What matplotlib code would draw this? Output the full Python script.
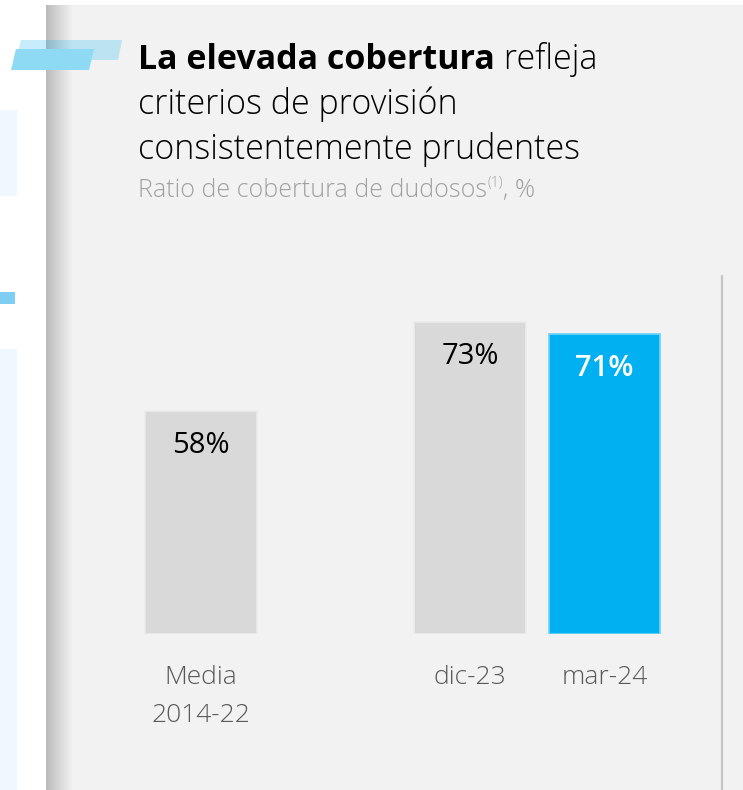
import numpy as np
import matplotlib
matplotlib.use("Agg")
from matplotlib import pyplot as plt
from matplotlib.patches import Rectangle, Polygon
from matplotlib.colors import LinearSegmentedColormap

# chart data
categories = ["Media\n2014-22", "dic-23", "mar-24"]
coverage = [58, 73, 71]
value_labels = ["58%", "73%", "71%"]

title_bold = "La elevada cobertura"
title_rest = [" refleja", "criterios de provisión", "consistentemente prudentes"]
subtitle = "Ratio de cobertura de dudosos"

FONT = ["Open Sans", "DejaVu Sans"]
W, H = 743, 790
BLUE = "#00b0f0"
GREY_BAR = "#d9d9d9"
PANEL = "#f2f2f2"

fig = plt.figure(figsize=(W / 100, H / 100), dpi=100)
fig.patch.set_facecolor("white")

# background layer in pixel coordinates
bg = fig.add_axes([0, 0, 1, 1])
bg.set_xlim(0, W)
bg.set_ylim(H, 0)
bg.axis("off")

# neighbouring slide pieces on the left
bg.add_patch(Rectangle((0, 110), 17, 86, color="#eef8fe", lw=0))
bg.add_patch(Rectangle((0, 292), 15, 12, color="#7fcdf2", lw=0))
bg.add_patch(Rectangle((0, 349), 17, H - 349, color="#eef8fe", lw=0))

# main panel with its left shadow
bg.add_patch(Rectangle((46, 5), W - 46, H - 5, color=PANEL, lw=0))
shadow = LinearSegmentedColormap.from_list("shadow", ["#bababa", "#d8d8d8", PANEL])
grad = np.linspace(0, 1, 64).reshape(1, -1)
bg.imshow(grad, cmap=shadow, extent=(46, 73, H, 5), aspect="auto", zorder=1)
bg.set_xlim(0, W)
bg.set_ylim(H, 0)

# title decoration
bg.add_patch(Polygon([(21, 40), (122, 40), (118, 60), (16, 60)],
                     closed=True, color=BLUE, alpha=0.22, lw=0, zorder=2))
bg.add_patch(Polygon([(16, 49), (94, 49), (89, 70), (11, 70)],
                     closed=True, color="#8ed9f4", lw=0, zorder=3))

# divider on the right
bg.plot([722, 722], [276, H], color="#c6c6c6", lw=1.6, zorder=2)

# title block
TS = 24.5
t1 = fig.text(138 / W, 1 - 69 / H, title_bold, fontsize=TS, fontweight="bold",
              family=FONT, color="#000000", va="baseline")
fig.canvas.draw()
bb = t1.get_window_extent()
fig.text(bb.x1 / W, 1 - 69 / H, title_rest[0], fontsize=TS, fontweight="light",
         family=FONT, color="#000000", va="baseline")
fig.text(138 / W, 1 - 114 / H, title_rest[1], fontsize=TS, fontweight="light",
         family=FONT, color="#000000", va="baseline")
fig.text(138 / W, 1 - 159 / H, title_rest[2], fontsize=TS, fontweight="light",
         family=FONT, color="#000000", va="baseline")

SS = 18
s1 = fig.text(138 / W, 1 - 197 / H, subtitle, fontsize=SS, fontweight="light",
              family=FONT, color="#a0a0a0", va="baseline")
fig.canvas.draw()
bb = s1.get_window_extent()
s2 = fig.text(bb.x1 / W, 1 - 187 / H, "(1)", fontsize=10, fontweight="light",
              family=FONT, color="#a0a0a0", va="baseline")
fig.canvas.draw()
bb = s2.get_window_extent()
fig.text(bb.x1 / W, 1 - 197 / H, ", %", fontsize=SS, fontweight="light",
         family=FONT, color="#a0a0a0", va="baseline")

# bar chart
x_pos = [0, 2, 3]
step = 134.5           # pixels per x unit
x0_px = 201            # pixel centre of the first bar
base_px = 634          # baseline pixel row
y_floor = 20.4
px_per_pct = 5.93

ax = fig.add_axes([0, (H - base_px) / H, 1, base_px / H])
ax.set_xlim(-x0_px / step, (W - x0_px) / step)
ax.set_ylim(y_floor, y_floor + base_px / px_per_pct)
ax.patch.set_alpha(0)
for s in ax.spines.values():
    s.set_visible(False)

colors = [GREY_BAR, GREY_BAR, BLUE]
edges = ["#ebebeb", "#ebebeb", "#6fd3f7"]
bars = ax.bar(x_pos, np.array(coverage) - y_floor, bottom=y_floor, width=0.83,
              color=colors, edgecolor=edges, linewidth=1.2, zorder=3)

label_colors = ["#000000", "#000000", "white"]
label_weights = ["normal", "normal", "semibold"]
for xp, v, lab, c, wt in zip(x_pos, coverage, value_labels, label_colors, label_weights):
    ax.annotate(lab, xy=(xp, v), xytext=(0, -25), textcoords="offset points",
                ha="center", va="center", fontsize=21, color=c, fontweight=wt,
                family=FONT, zorder=4)

ax.set_yticks([])
ax.set_xticks(x_pos)
ax.set_xticklabels(categories, fontsize=19, fontweight="light", family=FONT,
                   color="#595959", linespacing=1.7)
ax.tick_params(axis="x", length=0, pad=22)

fig.savefig("out.png", dpi=100, facecolor=fig.get_facecolor())
